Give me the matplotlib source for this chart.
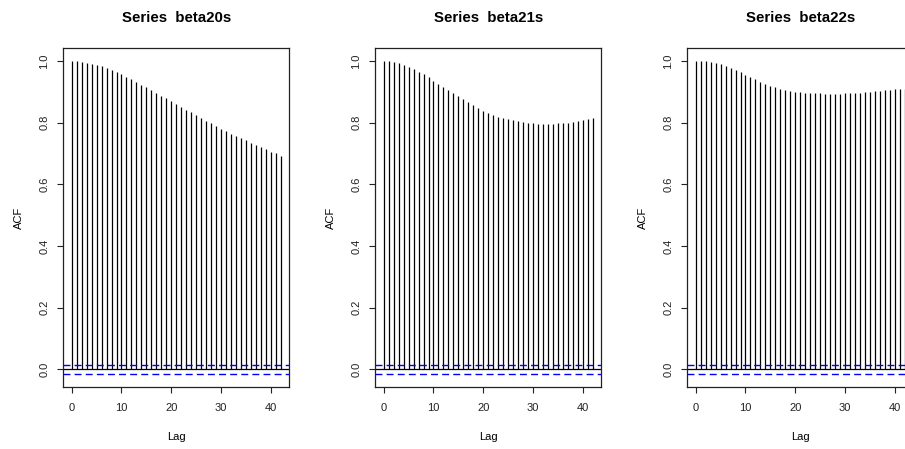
import numpy as np
import matplotlib
matplotlib.use("Agg")
import matplotlib.pyplot as plt

plt.rcParams['font.family'] = ['Liberation Sans', 'DejaVu Sans']

lags = list(range(43))
series_names = ["beta20s", "beta21s", "beta22s"]

acf_beta20s = [1.000, 0.999, 0.997, 0.994, 0.991, 0.987, 0.982, 0.976, 0.970, 0.964,
               0.957, 0.949, 0.940, 0.931, 0.923, 0.914, 0.905, 0.896, 0.887, 0.878,
               0.869, 0.860, 0.851, 0.842, 0.833, 0.824, 0.815, 0.806, 0.797, 0.789,
               0.780, 0.772, 0.764, 0.757, 0.749, 0.742, 0.735, 0.727, 0.720, 0.713,
               0.706, 0.700, 0.693]
acf_beta21s = [1.000, 0.999, 0.996, 0.992, 0.987, 0.980, 0.973, 0.965, 0.956, 0.946,
               0.936, 0.926, 0.916, 0.906, 0.896, 0.887, 0.877, 0.867, 0.857, 0.847,
               0.838, 0.831, 0.825, 0.819, 0.815, 0.811, 0.807, 0.804, 0.801, 0.799,
               0.797, 0.796, 0.796, 0.796, 0.796, 0.797, 0.798, 0.800, 0.802, 0.804,
               0.807, 0.810, 0.814]
acf_beta22s = [1.000, 0.999, 0.998, 0.996, 0.993, 0.989, 0.984, 0.978, 0.971, 0.963,
               0.955, 0.948, 0.940, 0.933, 0.926, 0.920, 0.914, 0.909, 0.905, 0.902,
               0.900, 0.898, 0.897, 0.896, 0.895, 0.895, 0.894, 0.894, 0.894, 0.894,
               0.895, 0.895, 0.896, 0.897, 0.898, 0.900, 0.901, 0.903, 0.905, 0.906,
               0.908, 0.909, 0.909]
conf_bound = 0.0153

W, H = 905, 449
fig = plt.figure(figsize=(W / 100, H / 100), dpi=100)

panel_left = [63.3, 375.3, 687.3]
box_w, box_top, box_bot = 226, 48.3, 386.7

all_acf = [acf_beta20s, acf_beta21s, acf_beta22s]
for name, acf, left in zip(series_names, all_acf, panel_left):
    ax = fig.add_axes([left / W, 1 - box_bot / H, box_w / W, (box_bot - box_top) / H])
    ax.vlines(lags, 0, acf, color='black', linewidth=0.9)
    ax.axhline(0, color='black', linewidth=0.9)
    for b in (conf_bound, -conf_bound):
        ax.axhline(b, color='#0000ff', linewidth=1.0, linestyle=(0, (5, 3)))

    ax.set_xlim(-1.68, 43.68)
    ax.set_ylim(-0.0559, 1.0406)
    ax.set_xticks([0, 10, 20, 30, 40])
    ax.set_yticks([0.0, 0.2, 0.4, 0.6, 0.8, 1.0])
    ax.set_yticklabels(["0.0", "0.2", "0.4", "0.6", "0.8", "1.0"])
    ax.tick_params(length=4.2, width=0.8, labelsize=8, colors='#222222')
    ax.tick_params(axis='x', pad=7.5)
    ax.tick_params(axis='y', labelrotation=90, pad=6)
    for lbl in ax.get_yticklabels():
        lbl.set_va('center')
    for sp in ax.spines.values():
        sp.set_linewidth(0.9)
        sp.set_color('#222222')

    ax.set_title("Series  " + name, fontsize=10.8, fontweight='bold', pad=19)
    ax.set_xlabel("Lag", fontsize=8, labelpad=13.5)
    ax.set_ylabel("ACF", fontsize=8, labelpad=11)

fig.savefig("out.png", dpi=100)
